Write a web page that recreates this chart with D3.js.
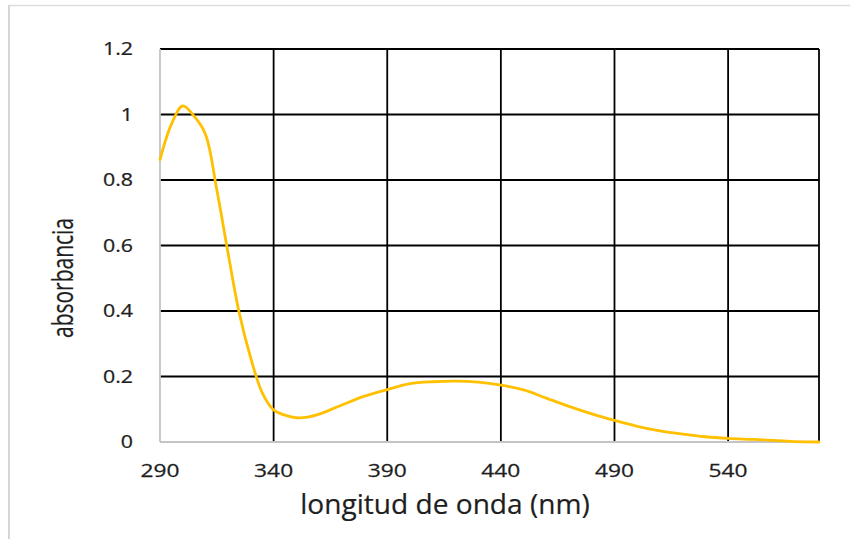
<!DOCTYPE html>
<html>
<head>
<meta charset="utf-8">
<script src="https://cdn.jsdelivr.net/npm/d3@7"></script>
<style>
  html, body { margin: 0; padding: 0; background: #fff; }
  svg { display: block; }
  text { font-family: "Open Sans", "Noto Sans", sans-serif; fill: #1e1e1e; }
</style>
</head>
<body>
<svg id="chart" width="850" height="539"></svg>
<script>
// wavelength (nm)
const wavelengths = [290, 295, 300, 305, 310, 315, 320, 325, 330, 335, 340, 345, 350, 355, 360, 370, 380, 390, 400, 410, 420, 430, 440, 450, 460, 470, 480, 490, 500, 510, 520, 530, 540, 550, 560, 570, 580];
// absorbance
const absorbance = [0.862, 0.97, 1.026, 0.995, 0.94, 0.77, 0.575, 0.39, 0.255, 0.15, 0.098, 0.082, 0.074, 0.076, 0.085, 0.113, 0.14, 0.16, 0.178, 0.184, 0.186, 0.183, 0.174, 0.159, 0.134, 0.109, 0.086, 0.066, 0.048, 0.034, 0.024, 0.016, 0.011, 0.008, 0.005, 0.001, 0.0];
const xTicks = [290, 340, 390, 440, 490, 540];
const yTicks = [0, 0.2, 0.4, 0.6, 0.8, 1.0, 1.2];
const xTitle = "longitud de onda (nm)";
const yTitle = "absorbancia";

const svg = d3.select("#chart");
const W = 850, H = 539;
const plot = { left: 160, right: 819, top: 49, bottom: 442 };

const x = d3.scaleLinear().domain([290, 580]).range([plot.left, plot.right]);
const y = d3.scaleLinear().domain([0, 1.2]).range([plot.bottom, plot.top]);

// outer chart border (partially visible)
svg.append("line").attr("x1", 8).attr("x2", W).attr("y1", 5.5).attr("y2", 5.5)
  .attr("stroke", "#dedede").attr("stroke-width", 1.5);
svg.append("line").attr("x1", 9).attr("x2", 9).attr("y1", 5).attr("y2", H)
  .attr("stroke", "#d6d6d6").attr("stroke-width", 2);

// horizontal gridlines
svg.append("g").selectAll("line").data(yTicks.filter(d => d > 0)).join("line")
  .attr("x1", plot.left).attr("x2", plot.right)
  .attr("y1", d => y(d)).attr("y2", d => y(d))
  .attr("stroke", "#000").attr("stroke-width", 1.8);

// vertical gridlines (including right edge at domain max)
svg.append("g").selectAll("line").data(xTicks.filter(d => d > 290).concat([580])).join("line")
  .attr("x1", d => x(d)).attr("x2", d => x(d))
  .attr("y1", plot.top).attr("y2", plot.bottom)
  .attr("stroke", "#000").attr("stroke-width", 1.8);

// axis lines (gray)
svg.append("line").attr("x1", plot.left).attr("x2", plot.left).attr("y1", plot.top).attr("y2", plot.bottom)
  .attr("stroke", "#c4c4c4").attr("stroke-width", 1.8);
svg.append("line").attr("x1", plot.left).attr("x2", plot.right).attr("y1", plot.bottom).attr("y2", plot.bottom)
  .attr("stroke", "#c4c4c4").attr("stroke-width", 1.8);

// y tick labels
const fmtY = d => (d === 0 ? "0" : d === 1 ? "1" : d3.format(".1f")(d));
svg.append("g").selectAll("text").data(yTicks).join("text")
  .attr("transform", d => `translate(133,${y(d) + 6.3}) scale(1.2,1)`)
  .attr("text-anchor", "end")
  .attr("font-size", 17.8)
  .attr("stroke", "#1e1e1e").attr("stroke-width", 0.25)
  .text(fmtY);

// x tick labels
svg.append("g").selectAll("text").data(xTicks).join("text")
  .attr("transform", d => `translate(${x(d)},477) scale(1.28,1)`)
  .attr("text-anchor", "middle")
  .attr("font-size", 17.8)
  .attr("stroke", "#1e1e1e").attr("stroke-width", 0.25)
  .text(d => d);

// axis titles
svg.append("text")
  .attr("transform", "translate(445,514) scale(1.06,1)")
  .attr("text-anchor", "middle")
  .attr("font-size", 26.5)
  .attr("stroke", "#1e1e1e").attr("stroke-width", 0.2)
  .text(xTitle);

svg.append("text")
  .attr("transform", "translate(73,278) scale(1.15,1) rotate(-90)")
  .attr("text-anchor", "middle")
  .attr("font-size", 25)
  .attr("textLength", 120)
  .attr("lengthAdjust", "spacingAndGlyphs")
  .attr("stroke", "#1e1e1e").attr("stroke-width", 0.2)
  .text(yTitle);

// curve
const line = d3.line()
  .x((d, i) => x(wavelengths[i]))
  .y(d => y(d))
  .curve(d3.curveCatmullRom.alpha(0.5));

svg.append("path")
  .datum(absorbance)
  .attr("d", line)
  .attr("fill", "none")
  .attr("stroke", "#FFC000")
  .attr("stroke-width", 2.8)
  .attr("stroke-linejoin", "round")
  .attr("stroke-linecap", "round");
</script>
</body>
</html>
